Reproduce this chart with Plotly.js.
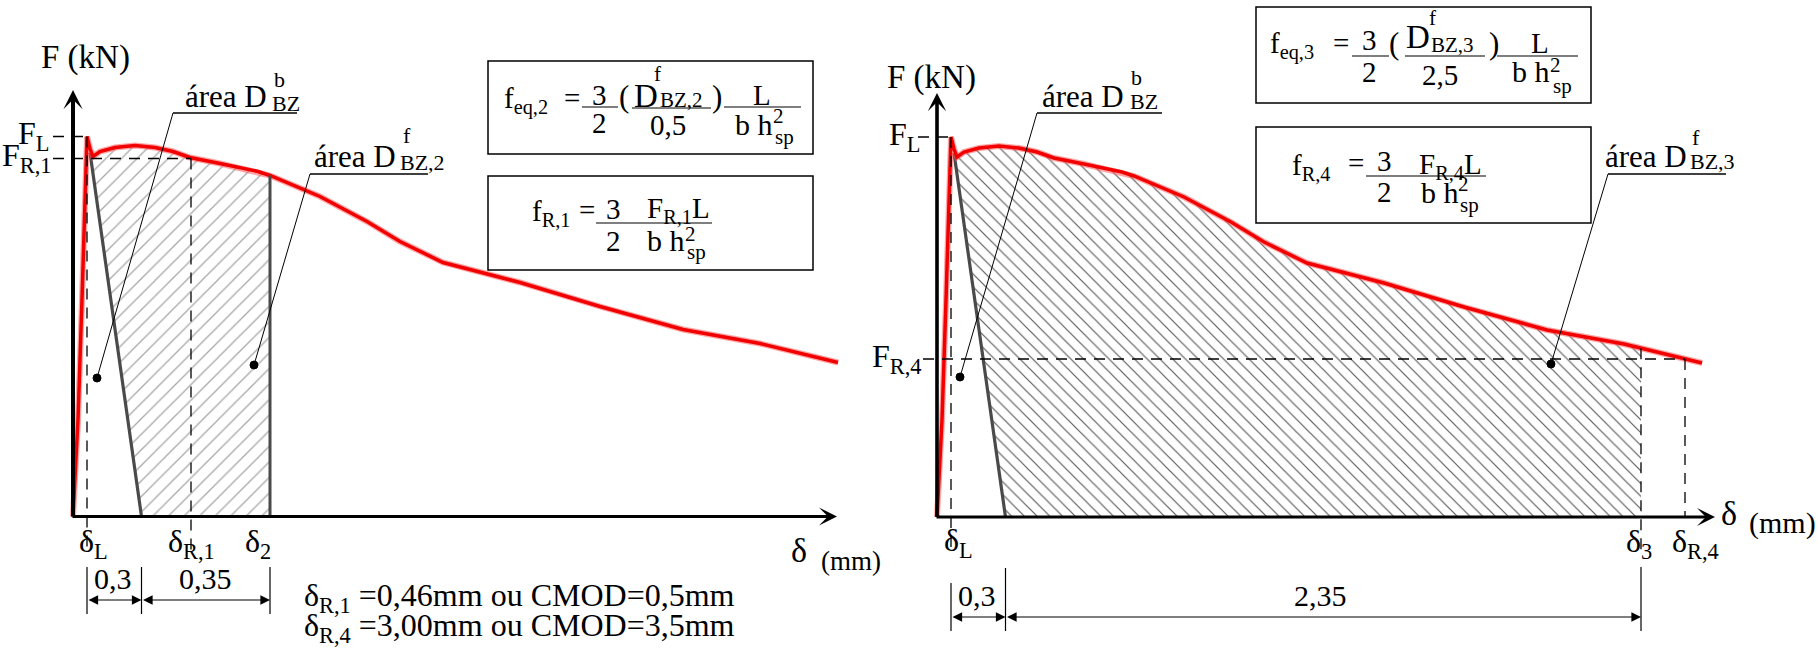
<!DOCTYPE html>
<html><head><meta charset="utf-8">
<script src="https://cdn.plot.ly/plotly-3.0.1.min.js"></script>
<style>html,body{margin:0;padding:0;background:#fff}</style>
</head><body><div id="chart" style="width:1817px;height:654px"></div>
<script>
// ---- schematic load–displacement curve (same curve in both panels) ----
const delta = [0, 0.05, 0.09, 0.12, 0.14, 0.17, 0.20, 0.27, 0.42, 0.62, 0.82, 1.00, 1.17, 1.47, 1.85, 1.97, 2.47, 2.94, 3.27, 3.70, 4.47, 5.27, 6.10, 6.87, 7.65];
const force = [0, 9.7, 21.7, 32.7, 38.0, 36.8, 36.0, 36.5, 36.9, 37.1, 36.9, 36.5, 35.9, 35.3, 34.5, 34.1, 32.0, 29.5, 27.5, 25.4, 23.4, 21.0, 18.7, 17.3, 15.4];
// unloading line (top point, foot)
const unloadX = [0.17, 0.685];
const unloadY = [36.4, 0];
// characteristic points
const deltaL = 0.14, FL = 38.0;
const deltaR1 = 1.18, FR1 = 35.8;
const delta2 = 1.97;
const delta3 = 7.04;
const deltaR4 = 7.48, FR4 = 15.8;
const xTipLeft = 7.64, xTipRight = 7.78, yTipLeft = 42.65, yTipRight = 42.4;
// labels
const yLabelsLeft = ['F<sub>L</sub>', 'F<sub>R,1</sub>'];
const xLabelsLeft = ['δ<sub>L</sub>', 'δ<sub>R,1</sub>', 'δ<sub>2</sub>'];
const yLabelsRight = ['F<sub>L</sub>', 'F<sub>R,4</sub>'];
const xLabelsRight = ['δ<sub>L</sub>', 'δ<sub>3</sub>', 'δ<sub>R,4</sub>'];
const dimLeft = ['0,3', '0,35'];
const dimRight = ['0,3', '2,35'];
const noteLines = ['δ<sub>R,1</sub> =0,46mm ou CMOD=0,5mm', 'δ<sub>R,4</sub> =3,00mm ou CMOD=3,5mm'];

const W = 1817, H = 654;
const FONT = '"Liberation Serif", "Times New Roman", serif';
const PX = v => v / W, PY = v => 1 - v / H;

function interp(x) {
  for (let i = 1; i < delta.length; i++) {
    if (x <= delta[i]) {
      const t = (x - delta[i - 1]) / (delta[i] - delta[i - 1]);
      return force[i - 1] + t * (force[i] - force[i - 1]);
    }
  }
  return force[force.length - 1];
}
function region(x0, x1) {
  const xs = [x0], ys = [interp(x0)];
  delta.forEach((d, i) => { if (d > x0 && d < x1) { xs.push(d); ys.push(force[i]); } });
  xs.push(x1); ys.push(interp(x1));
  xs.push(x1); ys.push(0);
  xs.push(unloadX[1]); ys.push(0);
  xs.push(x0); ys.push(interp(x0));
  return {xs, ys};
}
const regL = region(unloadX[0], delta2);
const regR = region(unloadX[0], delta3);

const traces = [
  {x: regL.xs, y: regL.ys, xaxis: 'x', yaxis: 'y', type: 'scatter', mode: 'none', fill: 'toself',
   fillcolor: 'rgba(0,0,0,0)', fillpattern: {shape: '/', fgcolor: '#a8a8a8', bgcolor: 'rgba(255,255,255,0)', size: 11, solidity: 0.12}, hoverinfo: 'skip'},
  {x: regR.xs, y: regR.ys, xaxis: 'x2', yaxis: 'y2', type: 'scatter', mode: 'none', fill: 'toself',
   fillcolor: 'rgba(0,0,0,0)', fillpattern: {shape: '\\', fgcolor: '#5a5a5a', bgcolor: 'rgba(255,255,255,0)', size: 9, solidity: 0.13}, hoverinfo: 'skip'},
];
[['x', 'y'], ['x2', 'y2']].forEach(([xa, ya]) => {
  traces.push({x: unloadX, y: unloadY, xaxis: xa, yaxis: ya, type: 'scatter', mode: 'lines', line: {color: '#4a4a4a', width: 3.2}});
  traces.push({x: delta, y: force, xaxis: xa, yaxis: ya, type: 'scatter', mode: 'lines', line: {color: 'rgba(255,90,90,0.55)', width: 6}});
  traces.push({x: delta, y: force, xaxis: xa, yaxis: ya, type: 'scatter', mode: 'lines', line: {color: '#f20000', width: 3.5}});
});

const shapes = [];
const dash = '11px,8px';
function dline(xref, yref, x0, y0, x1, y1, width = 1.3, color = '#000', d = dash) {
  shapes.push({type: 'line', xref, yref, x0, y0, x1, y1, line: {color, width, dash: d}});
}
const YBL = -3.65; // below-axis end of dashed guides
// left panel guides
dline('x', 'y', -0.2, FL, deltaL, FL);
dline('x', 'y', -0.2, FR1, deltaR1, FR1);
dline('x', 'y', deltaL, FL, deltaL, YBL);
dline('x', 'y', deltaR1, FR1, deltaR1, YBL);
dline('x', 'y', delta2, interp(delta2), delta2, 0, 3, '#4a4a4a', 'solid');
// right panel guides
dline('x2', 'y2', -0.19, FL, deltaL, FL);
dline('x2', 'y2', -0.14, FR4, deltaR4, FR4);
dline('x2', 'y2', deltaL, FL, deltaL, -3.8);
dline('x2', 'y2', delta3, interp(delta3), delta3, -3.8);
dline('x2', 'y2', deltaR4, FR4, deltaR4, 0);
// dimension extension lines
function ext(xref, x, y0, y1) { shapes.push({type: 'line', xref, yref: 'paper', x0: x, x1: x, y0: PY(y0), y1: PY(y1), line: {color: '#000', width: 1.2}}); }
ext('x', deltaL, 567, 614); ext('x', unloadX[1], 567, 614); ext('x', delta2, 567, 614);
ext('x2', deltaL, 583, 631); ext('x2', unloadX[1], 568, 631); ext('x2', delta3, 567, 631);
// paper-pixel helpers
function pline(x0, y0, x1, y1, w = 1.2) { shapes.push({type: 'line', xref: 'paper', yref: 'paper', x0: PX(x0), y0: PY(y0), x1: PX(x1), y1: PY(y1), line: {color: '#000', width: w}}); }
function prect(x0, y0, x1, y1) { shapes.push({type: 'rect', xref: 'paper', yref: 'paper', x0: PX(x0), y0: PY(y0), x1: PX(x1), y1: PY(y1), line: {color: '#000', width: 1.5}}); }
function pdot(x, y, r = 4) { shapes.push({type: 'circle', xref: 'paper', yref: 'paper', x0: PX(x - r), x1: PX(x + r), y0: PY(y + r), y1: PY(y - r), fillcolor: '#000', line: {color: '#000', width: 1}}); }
prect(488, 61, 813, 154); prect(488, 176, 813, 270); prect(1256, 7, 1591, 103); prect(1256, 127, 1591, 223);
// fraction bars
pline(582, 107, 618, 107); pline(632, 108, 711, 108); pline(724, 107, 801, 107);
pline(596, 223, 712, 223);
pline(1352, 56, 1389, 56); pline(1405, 56, 1485, 56); pline(1497, 56, 1578, 56);
pline(1366, 176, 1486, 176);
// underlines + leaders + anchor dots
pline(173, 113, 297, 113, 1.3); pline(173, 113, 97, 378, 1); pdot(97, 378);
pline(310, 174, 428, 174, 1.3); pline(310, 174, 254, 365, 1); pdot(254, 365);
pline(1037, 113, 1162, 113, 1.3); pline(1037, 113, 960, 377, 1); pdot(960, 377);
pline(1608, 174, 1726, 174, 1.3); pline(1608, 174, 1551, 364, 1); pdot(1551, 364);

const ann = [];
function T(text, x, y, size, xanchor = 'center', extra = {}) {
  ann.push(Object.assign({xref: 'paper', yref: 'paper', x: PX(x), y: PY(y), text, showarrow: false, xanchor, yanchor: 'middle',
    font: {family: FONT, size, color: '#000'}}, extra));
}
function axArrow(xref, yref, x, y, ax, ay, w, s) {
  ann.push({xref, yref, axref: xref, ayref: yref, x, y, ax, ay, text: '', showarrow: true, arrowhead: 3, arrowwidth: w, arrowsize: s, arrowcolor: '#000', standoff: 0});
}
axArrow('x', 'y', 0, yTipLeft, 0, -0.15, 4, 0.8);
axArrow('x', 'y', xTipLeft, 0, -0.02, 0, 3, 1);
axArrow('x2', 'y2', 0, yTipRight, 0, -0.15, 3.6, 0.85);
axArrow('x2', 'y2', xTipRight, 0, -0.02, 0, 3, 1);
function dimArrow(xref, x0, x1, y) {
  ann.push({xref, yref: 'paper', axref: xref, ayref: 'pixel', x: x1, y: PY(y), ax: x0, ay: 0, text: '', showarrow: true,
    arrowhead: 2, arrowsize: 1.6, startarrowhead: 2, startarrowsize: 1.6, arrowside: 'end+start', arrowwidth: 1.2, arrowcolor: '#000', standoff: 0, startstandoff: 0});
}
dimArrow('x', deltaL, unloadX[1], 600); dimArrow('x', unloadX[1], delta2, 600);
dimArrow('x2', deltaL, unloadX[1], 617); dimArrow('x2', unloadX[1], delta3, 617);

// axis-value labels
function ylab(yref, text, y, xr) { ann.push({xref: 'paper', yref, x: PX(xr), y, text, showarrow: false, xanchor: 'right', yanchor: 'middle', yshift: 1, font: {family: FONT, size: 32, color: '#000'}}); }
ylab('y', yLabelsLeft[0], FL, 51); ylab('y', yLabelsLeft[1], FR1, 54);
ylab('y2', yLabelsRight[0], FL, 922); ylab('y2', yLabelsRight[1], FR4, 924);
function xlab(xref, text, x, xanchor, xshift, y) { ann.push({xref, yref: 'paper', x, y: PY(y), text, showarrow: false, xanchor, xshift, yanchor: 'middle', font: {family: FONT, size: 32, color: '#000'}}); }
xlab('x', xLabelsLeft[0], deltaL, 'left', -10, 543);
xlab('x', xLabelsLeft[1], deltaR1, 'center', 0, 543);
xlab('x', xLabelsLeft[2], delta2, 'right', 3, 543);
xlab('x2', xLabelsRight[0], deltaL, 'left', -9, 542);
xlab('x2', xLabelsRight[1], delta3, 'center', -2, 543);
xlab('x2', xLabelsRight[2], deltaR4, 'left', -15, 543);
// dimension texts
T(dimLeft[0], 113, 578, 30); T(dimLeft[1], 205, 578, 30);
T(dimRight[0], 977, 595, 30); T(dimRight[1], 1320, 595, 30);
// axis titles
T('F (kN)', 85, 58, 33); T('F (kN)', 931, 77, 33);
T('δ', 799, 550, 34); T('(mm)', 851, 561, 27);
T('δ', 1729, 513, 34); T('(mm)', 1782, 523, 30);
// notes
T(noteLines[0], 302, 597, 32, 'left'); T(noteLines[1], 302, 627, 32, 'left');
// area labels
T('área D', 183, 97, 31, 'left'); T('b', 272, 80, 22, 'left'); T('BZ', 270, 104, 22, 'left');
T('área D', 312, 156, 31, 'left'); T('f', 401, 136, 22, 'left'); T('BZ,2', 398, 162, 22, 'left');
T('área D', 1040, 96, 31, 'left'); T('b', 1129, 77, 22, 'left'); T('BZ', 1128, 101, 22, 'left');
T('área D', 1603, 157, 31, 'left'); T('f', 1690, 137, 22, 'left'); T('BZ,3', 1688, 161, 22, 'left');
// box 1
T('f<sub>eq,2</sub>', 502, 100, 29, 'left'); T('=', 572, 98, 29);
T('3', 599, 95, 29); T('2', 599, 123, 29); T('(', 624, 97, 31);
T('D', 632, 96, 33, 'left'); T('f', 652, 74, 21, 'left'); T('BZ,2', 658, 100, 21, 'left');
T('0,5', 668, 125, 29); T(')', 717, 97, 31);
T('L', 762, 95, 29); T('b h', 733, 124, 30, 'left'); T('2', 771, 116, 21, 'left'); T('sp', 773, 137, 21, 'left');
// box 2
T('f<sub>R,1</sub>', 530, 213, 29, 'left'); T('=', 587, 210, 29);
T('3', 613, 209, 29); T('2', 613, 241, 29);
T('F<sub>R,1</sub>L', 645, 210, 29, 'left');
T('b h', 645, 241, 30, 'left'); T('2', 683, 234, 21, 'left'); T('sp', 685, 252, 21, 'left');
// box 3
T('f<sub>eq,3</sub>', 1268, 45, 29, 'left'); T('=', 1341, 43, 29);
T('3', 1369, 40, 29); T('2', 1369, 72, 29); T('(', 1394, 43, 31);
T('D', 1404, 37, 33, 'left'); T('f', 1427, 18, 21, 'left'); T('BZ,3', 1429, 45, 21, 'left');
T('2,5', 1440, 75, 29); T(')', 1494, 43, 31);
T('L', 1540, 43, 29); T('b h', 1510, 71, 30, 'left'); T('2', 1548, 65, 21, 'left'); T('sp', 1551, 86, 21, 'left');
// box 4
T('f<sub>R,4</sub>', 1290, 167, 29, 'left'); T('=', 1356, 163, 29);
T('3', 1384, 161, 29); T('2', 1384, 192, 29);
T('F<sub>R,4</sub>L', 1417, 166, 29, 'left');
T('b h', 1419, 192, 30, 'left'); T('2', 1456, 184, 21, 'left'); T('sp', 1458, 205, 21, 'left');

const hid = {visible: false, showgrid: false, zeroline: false, fixedrange: true};
const layout = {
  width: W, height: H, margin: {l: 0, r: 0, t: 0, b: 0}, paper_bgcolor: '#fff', plot_bgcolor: 'rgba(0,0,0,0)', showlegend: false,
  xaxis: Object.assign({domain: [0, 880 / W], range: [-0.73, 8.07]}, hid),
  yaxis: Object.assign({domain: [0, 1], range: [-13.75, 51.65]}, hid),
  xaxis2: Object.assign({domain: [890 / W, 1], range: [-0.47, 8.80], anchor: 'y2'}, hid),
  yaxis2: Object.assign({domain: [0, 1], range: [-13.7, 51.7], anchor: 'x2'}, hid),
  shapes, annotations: ann,
  font: {family: FONT}
};
Plotly.newPlot('chart', traces, layout, {displayModeBar: false, staticPlot: true});
</script></body></html>
